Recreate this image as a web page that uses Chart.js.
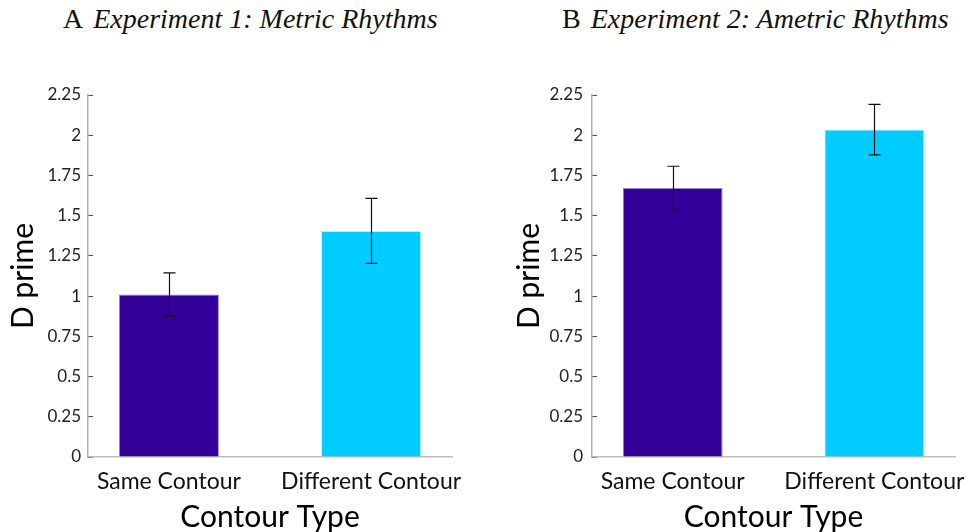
<!DOCTYPE html>
<html>
<head>
<meta charset="utf-8">
<script src="https://cdn.jsdelivr.net/npm/chart.js@4.4.1/dist/chart.umd.min.js"></script>
<style>
  html, body { margin: 0; padding: 0; background: #fff; }
  #wrap { position: relative; width: 974px; height: 532px; overflow: hidden; }
  canvas { position: absolute; top: 0; }
  .ttl { position: absolute; top: 3px; font-family: "Liberation Serif", "Times New Roman", serif; font-size: 28px; color: #111; white-space: nowrap; }
  .ttl i { margin-left: 10px; }
</style>
</head>
<body>
<div id="wrap">
  <div class="ttl" id="t1" style="left:63px;">A<i>Experiment 1: Metric Rhythms</i></div>
  <div class="ttl" id="t2" style="left:562px;">B<i>Experiment 2: Ametric Rhythms</i></div>
  <canvas id="c1" width="487" height="532" style="left:0px;"></canvas>
  <canvas id="c2" width="487" height="532" style="left:487px;"></canvas>
</div>
<script>
// ---- data ----
const categories = ["Same Contour", "Different Contour"];
const exp1Means = [1.01, 1.405];
const exp1Errors = [0.135, 0.202];
const exp2Means = [1.672, 2.035];
const exp2Errors = [0.135, 0.157];
const barColors = ["#330099", "#00CCFF"];
const barBorders = ["#9488cc", "#bfeaf8"];
const yTickMax = 2.25;
const yTickStep = 0.25;

const FONT = "Lato, 'Open Sans', sans-serif";

const errorBarPlugin = {
  id: "errorBars",
  afterDatasetsDraw(chart) {
    const ctx = chart.ctx;
    const yScale = chart.scales.y;
    chart.data.datasets.forEach((ds, di) => {
      const meta = chart.getDatasetMeta(di);
      meta.data.forEach((el, i) => {
        const v = ds.data[i].y;
        const e = ds.errors[i];
        const x = Math.round(el.x) + 0.5;
        const yTop = yScale.getPixelForValue(v + e);
        const yBot = yScale.getPixelForValue(v - e);
        ctx.save();
        ctx.strokeStyle = "#111";
        ctx.lineWidth = 1.2;
        ctx.beginPath();
        ctx.moveTo(x, yTop); ctx.lineTo(x, yBot);
        ctx.moveTo(x - 6, yTop); ctx.lineTo(x + 6, yTop);
        ctx.moveTo(x - 6, yBot); ctx.lineTo(x + 6, yBot);
        ctx.stroke();
        ctx.restore();
      });
    });
  }
};

function makeChart(id, means, errors, yWidth, padRight, yTitlePad, yTickPad) {
  const positions = categories.map((c, i) => i + 1);
  return new Chart(document.getElementById(id), {
    type: "bar",
    data: {
      datasets: [{
        data: positions.map((p, i) => ({ x: p, y: means[i] })),
        errors: errors,
        backgroundColor: barColors,
        borderColor: barBorders,
        borderWidth: 1,
        categoryPercentage: 1,
        barPercentage: 0.495
      }]
    },
    options: {
      responsive: false,
      devicePixelRatio: 1,
      animation: false,
      layout: { padding: { top: 95, right: padRight, bottom: 0, left: 0 } },
      plugins: { legend: { display: false }, tooltip: { enabled: false } },
      scales: {
        x: {
          type: "linear",
          min: 0.6,
          max: 2.4,
          offset: false,
          afterBuildTicks(scale) { scale.ticks = positions.map(v => ({ value: v })); },
          afterFit(scale) { scale.height = 75; scale.paddingLeft = 0; scale.paddingRight = 0; },
          grid: { display: false, drawTicks: false },
          border: { display: true, color: "#bdbdbd", width: 1.5 },
          ticks: {
            autoSkip: false,
            maxRotation: 0,
            padding: 11,
            color: "#111",
            font: { family: FONT, size: 23 },
            callback: v => categories[v - 1]
          },
          title: {
            display: true,
            text: "Contour Type",
            color: "#000",
            font: { family: FONT, size: 30, lineHeight: 1 },
            padding: { top: 0, bottom: 0 }
          }
        },
        y: {
          min: 0,
          max: yTickMax,
          afterFit(scale) { scale.width = yWidth; scale.paddingTop = 0; scale.paddingBottom = 0; },
          grid: { drawOnChartArea: false, color: "#555", tickLength: -5, lineWidth: 1 },
          border: { display: true, color: "#b0b0b0", width: 1.5 },
          ticks: {
            stepSize: yTickStep,
            padding: yTickPad,
            color: "#222",
            font: { family: FONT, size: 17 },
            callback: v => String(+v.toFixed(2))
          },
          title: {
            display: true,
            text: "D prime",
            color: "#000",
            font: { family: FONT, size: 30 },
            padding: { top: yTitlePad, bottom: 0 }
          }
        }
      }
    },
    plugins: [errorBarPlugin]
  });
}

makeChart("c1", exp1Means, exp1Errors, 88, 35, 5, 12);
makeChart("c2", exp2Means, exp2Errors, 105, 19, 24, 14);
</script>
</body>
</html>
